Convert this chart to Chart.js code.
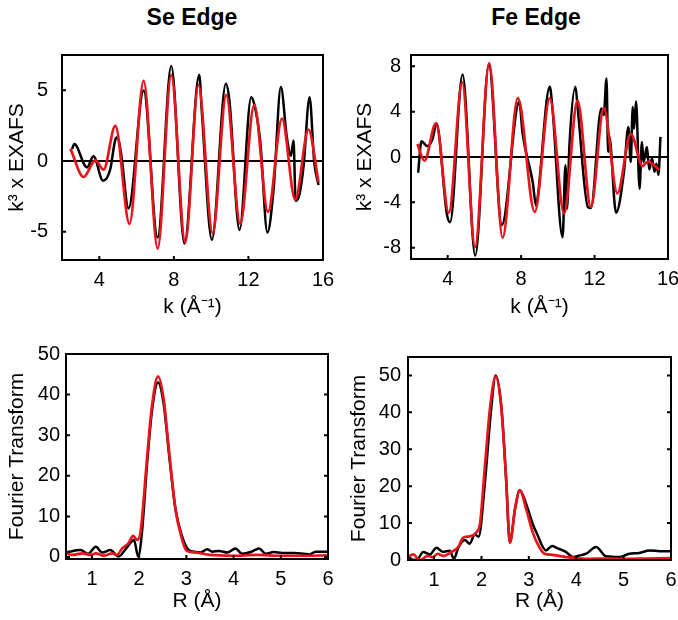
<!DOCTYPE html>
<html>
<head>
<meta charset="utf-8">
<script src="https://cdn.jsdelivr.net/npm/chart.js@4/dist/chart.umd.min.js"></script>
<style>
  html, body { margin: 0; padding: 0; background: #fff; }
  body { width: 678px; height: 620px; position: relative; overflow: hidden; font-family: "Liberation Sans", Arial, sans-serif; }
  .panel { position: absolute; }
  .edge { position: absolute; top: 4px; font-weight: bold; font-size: 23px; color: #000; transform: translateX(-50%); white-space: nowrap; }
</style>
</head>
<body>
<div class="edge" style="left:192px">Se Edge</div>
<div class="edge" style="left:536px">Fe Edge</div>
<div class="panel" style="left:0;top:40px;width:340px;height:285px"><canvas id="seChi"></canvas></div>
<div class="panel" style="left:340px;top:40px;width:338px;height:285px"><canvas id="feChi"></canvas></div>
<div class="panel" style="left:0;top:330px;width:340px;height:285px"><canvas id="seFt"></canvas></div>
<div class="panel" style="left:340px;top:330px;width:338px;height:285px"><canvas id="feFt"></canvas></div>
<script>
// Se edge, k-space (data = black, fit = red)
const seDataK = [2.54, 2.66, 3.34, 3.69, 4.2, 4.59, 4.86, 4.98, 5.16, 5.57, 6.38, 7.13, 7.86, 8.57, 9.36, 9.5, 10.04, 10.79, 10.98, 11.52, 12.15, 12.31, 12.63, 13.02, 13.35, 13.74, 14.06, 14.28, 14.42, 14.53, 14.74, 14.96, 15.28, 15.53, 15.76];
const seDataChi = [0.85, 1.2, -0.45, 0.33, -1.39, -0.57, 1.52, 1.68, 0.62, -3.35, 4.99, -5.41, 6.72, -5.84, 6.1, 3.5, -5.57, 5.46, 4.28, -4.87, 4.52, 4.04, 1.45, -5.06, -1.99, 5.23, 1.68, 0.38, 1.45, -2.81, -2.34, -0.33, 4.52, -0.09, -1.7];
const seFitK = [2.45, 3.16, 3.79, 4.23, 4.86, 5.62, 6.38, 7.13, 7.86, 8.61, 9.32, 10.08, 10.81, 11.56, 12.31, 13.05, 13.8, 14.51, 15.22, 15.76];
const seFitChi = [0.88, -1.13, 0.05, -0.61, 2.48, -4.44, 5.67, -6.2, 6.08, -5.74, 5.37, -5.1, 4.66, -4.44, 3.95, -3.6, 3.0, -2.74, 2.22, -1.49];

// Fe edge, k-space
const feDataK = [2.39, 2.57, 2.88, 3.17, 3.39, 3.95, 4.13, 4.81, 5.5, 6.24, 6.95, 7.9, 8.08, 8.63, 8.81, 8.89, 9.56, 9.7, 10.26, 10.41, 10.5, 10.63, 10.96, 11.09, 11.64, 11.8, 12.37, 12.5, 12.65, 12.74, 12.8, 13.17, 13.6, 13.84, 13.97, 14.08, 14.15, 14.26, 14.45, 14.58, 14.67, 14.85, 14.98, 15.13, 15.26, 15.37, 15.48, 15.59];
const feDataChi = [-1.39, 1.39, 0.97, 1.57, 2.95, -5.0, -5.75, 7.28, -8.7, 8.17, -6.0, 4.87, 2.06, -2.2, -4.28, -3.7, 6.2, 4.4, -7.08, -0.73, -4.57, 1.03, 6.2, 4.13, -4.42, -4.5, 4.28, 3.7, 6.93, 0.44, 1.8, -4.93, -1.33, 2.65, -0.44, 4.42, 2.5, 4.93, -2.8, 1.33, -0.44, 0.88, -1.1, -0.1, -1.3, -0.6, -1.56, 1.77];
const feFitK = [2.35, 2.73, 3.36, 4.06, 4.79, 5.49, 6.26, 6.99, 7.82, 8.74, 9.56, 10.34, 11.07, 11.8, 12.5, 13.24, 13.97, 14.62, 14.9, 15.53];
const feFitChi = [1.15, -0.33, 2.98, -4.93, 6.58, -7.94, 8.29, -7.11, 5.19, -4.84, 5.19, -4.98, 4.98, -4.4, 4.31, -3.21, 2.04, -0.8, -0.4, -1.15];

// Se edge, R-space
const seFtDataR = [0.45, 0.76, 0.92, 1.08, 1.22, 1.39, 1.51, 1.56, 1.75, 1.89, 1.98, 2.06, 2.17, 2.27, 2.4, 2.52, 2.63, 2.77, 2.91, 3.04, 3.16, 3.3, 3.44, 3.55, 3.69, 3.87, 4.04, 4.18, 4.38, 4.54, 4.68, 4.85, 5.03, 5.28, 5.49, 5.6, 5.74, 6.0];
const seFtDataVal = [1.1, 1.7, 0.8, 2.5, 1.1, 1.7, 0.5, 0.1, 2.5, 4.2, 0.1, 6.2, 23.3, 35.9, 43, 37.6, 25.6, 11.7, 5.1, 1.8, 1.3, 1.1, 1.9, 1.3, 1.5, 1.1, 2.1, 0.8, 1.3, 2.1, 0.8, 1.2, 1.0, 1.0, 0.8, 0.6, 1.3, 1.3];
const seFtFitR = [0.45, 0.58, 0.8, 0.97, 1.08, 1.25, 1.43, 1.53, 1.64, 1.78, 1.87, 1.96, 2.03, 2.17, 2.27, 2.4, 2.52, 2.63, 2.77, 2.91, 3.01, 3.2, 3.5, 4.0, 4.5, 5.0, 5.5, 6.0];
const seFtFitVal = [0.9, 0.5, 0.9, 0.5, 0.9, 0.35, 0.9, 0.5, 2.1, 3.5, 5.2, 4.2, 6.2, 24.8, 37.1, 44.5, 38.8, 26.4, 11.7, 4.3, 1.5, 1.1, 0.5, 0.3, 0.5, 0.3, 0.3, 0.4];

// Fe edge, R-space
const feFtDataR = [0.45, 0.56, 0.66, 0.77, 0.91, 1.05, 1.19, 1.33, 1.42, 1.51, 1.65, 1.75, 1.86, 1.94, 2.07, 2.2, 2.3, 2.42, 2.52, 2.6, 2.71, 2.81, 2.95, 3.09, 3.2, 3.26, 3.36, 3.49, 3.6, 3.78, 3.93, 4.03, 4.21, 4.42, 4.63, 4.91, 5.12, 5.33, 5.55, 5.76, 6.0];
const feFtDataVal = [1.1, 0, 0.3, 2.2, 1.5, 3.3, 2.2, 2.5, 0.3, 3.3, 5.4, 4.4, 6.9, 6.3, 20.5, 40.2, 50, 41.6, 22, 4.7, 14, 18.9, 14.9, 9.5, 6.3, 4.4, 2.6, 3.8, 3.2, 2.2, 0.8, 1.1, 1.7, 3.5, 1.0, 0.8, 1.7, 1.9, 2.6, 2.4, 2.4];
const feFtFitR = [0.45, 0.56, 0.7, 0.87, 0.97, 1.08, 1.19, 1.37, 1.51, 1.61, 1.75, 1.9, 1.97, 2.07, 2.18, 2.3, 2.42, 2.52, 2.6, 2.71, 2.81, 2.95, 3.09, 3.22, 3.33, 3.5, 3.79, 4.0, 4.2, 4.6, 5.0, 5.5, 6.0];
const feFtFitVal = [0.8, 1.5, 0, 1.1, 0.8, 1.7, 1.1, 2.2, 3.5, 6, 6.4, 7.6, 9.9, 24.8, 41.1, 49.7, 41.1, 22.1, 4.7, 13.9, 18.9, 13.5, 7.2, 3.5, 1.7, 1.4, 0.8, 0.5, 0.3, 0.4, 0.3, 0.4, 0.5];

// tick labels
const kTicks = [4, 8, 12, 16];
const rTicks = [1, 2, 3, 4, 5, 6];
const seChiTicks = [-5, 0, 5];
const feChiTicks = [-8, -4, 0, 4, 8];
const ftTicks = [0, 10, 20, 30, 40, 50];

const FONT = '"Liberation Sans", Arial, sans-serif';
const RED = '#e8141c';

// box + inward ticks
const framePlugin = {
    id: 'frame',
    afterDatasetsDraw(chart, args, opts) {
        const { ctx, chartArea: a, scales: { x, y } } = chart;
        const len = 4;
        ctx.save();
        ctx.strokeStyle = '#000';
        ctx.lineWidth = 2;
        ctx.beginPath();
        x.ticks.forEach(t => {
            const px = x.getPixelForValue(t.value);
            ctx.moveTo(px, a.bottom); ctx.lineTo(px, a.bottom - len);
        });
        y.ticks.forEach(t => {
            const py = y.getPixelForValue(t.value);
            ctx.moveTo(a.left, py); ctx.lineTo(a.left + len, py);
            if (opts.rightTicks) { ctx.moveTo(a.right, py); ctx.lineTo(a.right - len, py); }
        });
        ctx.stroke();
        ctx.strokeRect(a.left, a.top, a.right - a.left, a.bottom - a.top);
        ctx.restore();
    }
};

function pairs(xs, ys) {
    return xs.map((v, i) => ({ x: v, y: ys[i] }));
}

class ExafsFigure {
    constructor() {
        this.charts = {};
        this.init();
    }

    init() {
        this.charts.seChi = this.makePanel('seChi', {
            data: pairs(seDataK, seDataChi), fit: pairs(seFitK, seFitChi),
            xMin: 2, xMax: 16, xTicks: kTicks, yMin: -7, yMax: 7.5, yTicks: seChiTicks,
            xTitle: 'k (Å⁻¹)', yTitle: 'k³ x EXAFS', zeroLine: true,
            yWidth: 62, xHeight: 65, pad: { top: 15, right: 17 },
            yTitlePad: 5, xTitlePad: 5, yTickPad: 14
        });
        this.charts.feChi = this.makePanel('feChi', {
            data: pairs(feDataK, feDataChi), fit: pairs(feFitK, feFitChi),
            xMin: 2, xMax: 16, xTicks: kTicks, yMin: -9, yMax: 9, yTicks: feChiTicks,
            xTitle: 'k (Å⁻¹)', yTitle: 'k³ x EXAFS', zeroLine: true,
            yWidth: 71, xHeight: 66, pad: { top: 15, right: 10 },
            yTitlePad: 13, xTitlePad: 5, yTickPad: 10
        });
        this.charts.seFt = this.makePanel('seFt', {
            data: pairs(seFtDataR, seFtDataVal), fit: pairs(seFtFitR, seFtFitVal),
            xMin: 0.45, xMax: 6, xTicks: rTicks, yMin: -0.5, yMax: 50, yTicks: ftTicks,
            xTitle: 'R (Å)', yTitle: 'Fourier Transform', rightTicks: true,
            yWidth: 66, xHeight: 56, pad: { top: 24, right: 12 },
            yTitlePad: 5, xTitlePad: 1, yTickPad: 6
        });
        this.charts.feFt = this.makePanel('feFt', {
            data: pairs(feFtDataR, feFtDataVal), fit: pairs(feFtFitR, feFtFitVal),
            xMin: 0.45, xMax: 6, xTicks: rTicks, yMin: 0, yMax: 55, yTicks: ftTicks,
            xTitle: 'R (Å)', yTitle: 'Fourier Transform', rightTicks: true,
            yWidth: 68, xHeight: 55, pad: { top: 27, right: 7 },
            yTitlePad: 7, xTitlePad: 1, yTickPad: 7
        });
    }

    makePanel(id, p) {
        const ctx = document.getElementById(id);
        return new Chart(ctx, {
            type: 'line',
            data: {
                datasets: [
                    { label: 'fit', data: p.fit, borderColor: RED, borderWidth: 2.7, pointRadius: 0, cubicInterpolationMode: 'monotone' },
                    { label: 'data', data: p.data, borderColor: '#000', borderWidth: 2.5, pointRadius: 0, cubicInterpolationMode: 'monotone' }
                ]
            },
            options: this.getPanelOptions(p),
            plugins: [framePlugin]
        });
    }

    getPanelOptions(p) {
        const fixTicks = vals => scale => { scale.ticks = vals.map(v => ({ value: v })); };
        return {
            responsive: true,
            maintainAspectRatio: false,
            animation: false,
            layout: { padding: { top: p.pad.top, right: p.pad.right, left: 0, bottom: 0 } },
            plugins: {
                legend: { display: false },
                tooltip: { enabled: false },
                frame: { rightTicks: !!p.rightTicks }
            },
            scales: {
                x: {
                    type: 'linear',
                    min: p.xMin, max: p.xMax,
                    afterBuildTicks: fixTicks(p.xTicks),
                    // fixed axis band, no label overflow padding
                    afterFit: scale => { scale.height = p.xHeight; scale.paddingLeft = 0; scale.paddingRight = 0; },
                    border: { display: false },
                    grid: { display: false, drawTicks: false },
                    ticks: { color: '#000', padding: 8, maxRotation: 0, font: { family: FONT, size: 20 } },
                    title: { display: true, text: p.xTitle, color: '#000', padding: { top: 0, bottom: p.xTitlePad }, font: { family: FONT, size: 21 } }
                },
                y: {
                    min: p.yMin, max: p.yMax,
                    afterBuildTicks: fixTicks(p.yTicks),
                    afterFit: scale => { scale.width = p.yWidth; scale.paddingTop = 0; scale.paddingBottom = 0; },
                    border: { display: false },
                    grid: {
                        drawTicks: false,
                        lineWidth: 2,
                        color: c => (p.zeroLine && c.tick && c.tick.value === 0) ? '#000' : 'rgba(0,0,0,0)'
                    },
                    ticks: { color: '#000', padding: p.yTickPad, font: { family: FONT, size: 20 } },
                    title: { display: true, text: p.yTitle, color: '#000', padding: { top: p.yTitlePad, bottom: 0 }, font: { family: FONT, size: 21 } }
                }
            }
        };
    }
}

document.addEventListener('DOMContentLoaded', () => {
    window.exafsFigure = new ExafsFigure();
});
</script>
</body>
</html>
